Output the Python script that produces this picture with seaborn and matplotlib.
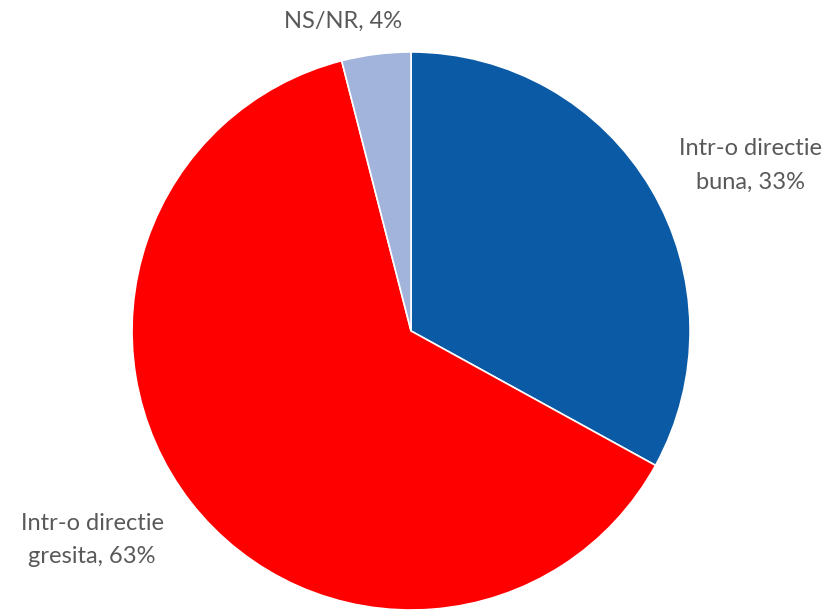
import matplotlib
matplotlib.use("Agg")
import matplotlib.pyplot as plt
import seaborn as sns

categories = ["Intr-o directie\nbuna", "Intr-o directie\ngresita", "NS/NR"]
values = [33, 63, 4]
colors = ["#0B5AA5", "#FF0000", "#A2B4DC"]

sns.set_theme(style="white")
plt.rcParams["font.family"] = ["Lato", "DejaVu Sans"]

fig = plt.figure(figsize=(8.33, 6.10), dpi=100)
ax = fig.add_axes([0.1585, 0.0, 0.6699, 0.9148])
wedges, _ = ax.pie(values, colors=colors, startangle=90, counterclock=False,
                   wedgeprops=dict(edgecolor="white", linewidth=1.2))
ax.set_xlim(-1, 1)
ax.set_ylim(-1, 1)
ax.set_aspect("equal")
ax.axis("off")

label_pos = [(1.215, 0.595), (-1.143, -0.749), (-0.244, 1.108)]
for cat, val, (x, y) in zip(categories, values, label_pos):
    ax.text(x, y, f"{cat}, {val}%", ha="center", va="center", fontsize=17,
            color="#595959", linespacing=1.75, clip_on=False)

fig.savefig("out.png", dpi=100, facecolor="white")
